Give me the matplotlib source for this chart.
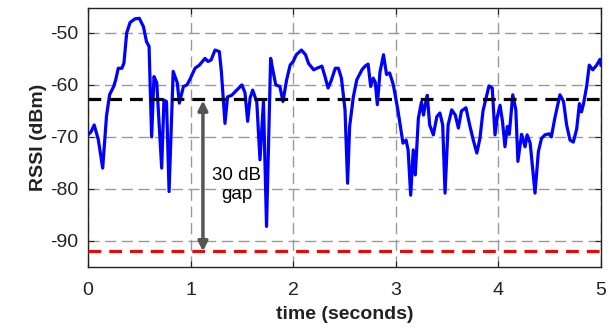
import matplotlib
matplotlib.use('Agg')
import numpy as np
import matplotlib.pyplot as plt

# RSSI trace
t = [0.0, 0.03, 0.06, 0.1, 0.143, 0.18, 0.21, 0.25, 0.27, 0.295, 0.33, 0.35, 0.377, 0.41,
     0.458, 0.5, 0.54, 0.57, 0.595, 0.62, 0.643, 0.67, 0.718, 0.74, 0.765, 0.79, 0.83, 0.87,
     0.89, 0.93, 0.965, 0.994, 1.043, 1.085, 1.14, 1.17, 1.2, 1.238, 1.28, 1.30, 1.335, 1.36,
     1.40, 1.45, 1.5, 1.53, 1.556, 1.58, 1.605, 1.645, 1.676, 1.71, 1.74, 1.78, 1.8, 1.83,
     1.87, 1.90, 1.936, 1.97, 2.0, 2.03, 2.08, 2.12, 2.15, 2.2, 2.23, 2.28, 2.31, 2.34, 2.37,
     2.41, 2.44, 2.47, 2.505, 2.53, 2.55, 2.586, 2.62, 2.67, 2.7, 2.73, 2.755, 2.78, 2.80,
     2.82, 2.846, 2.88, 2.91, 2.94, 2.976, 3.02, 3.07, 3.1, 3.12, 3.145, 3.17, 3.19, 3.22,
     3.25, 3.27, 3.285, 3.307, 3.33, 3.366, 3.4, 3.43, 3.457, 3.48, 3.51, 3.545, 3.58, 3.61,
     3.64, 3.684, 3.72, 3.755, 3.79, 3.82, 3.85, 3.886, 3.908, 3.94, 3.967, 3.99, 4.016,
     4.04, 4.064, 4.087, 4.106, 4.14, 4.17, 4.19, 4.226, 4.26, 4.28, 4.31, 4.357, 4.39, 4.42,
     4.454, 4.496, 4.516, 4.55, 4.6, 4.635, 4.665, 4.698, 4.73, 4.763, 4.79, 4.81, 4.83,
     4.86, 4.886, 4.92, 4.958, 4.99, 5.0]
rssi = [-69.6, -69.0, -67.7, -70.5, -76.0, -66.0, -61.9, -60.3, -59.0, -56.8, -56.8, -55.8,
        -50.0, -48.0, -47.3, -47.2, -48.8, -51.7, -52.6, -70.0, -58.4, -59.6, -76.0, -62.9,
        -63.2, -80.5, -57.4, -59.6, -63.5, -60.3, -60.0, -58.9, -56.8, -56.2, -54.9, -55.5,
        -55.2, -53.3, -53.6, -57.5, -67.4, -62.3, -62.0, -61.0, -60.0, -61.5, -67.0, -62.5,
        -61.0, -63.3, -74.4, -63.2, -87.2, -54.9, -57.0, -60.0, -60.3, -63.2, -59.0, -56.2,
        -55.5, -54.2, -53.3, -54.2, -55.9, -57.1, -56.8, -56.4, -58.4, -60.6, -59.2, -56.8,
        -56.8, -58.7, -64.8, -78.9, -68.0, -62.3, -59.0, -57.1, -56.4, -56.0, -60.3, -58.7,
        -59.5, -63.8, -57.5, -54.2, -58.0, -57.7, -60.0, -64.8, -71.2, -70.6, -72.5, -81.2,
        -72.5, -77.3, -66.4, -63.3, -65.8, -64.0, -62.0, -67.7, -69.6, -66.1, -65.4, -67.7,
        -80.8, -67.7, -64.8, -65.8, -68.3, -65.0, -64.4, -67.7, -70.6, -73.1, -70.3, -65.0,
        -62.0, -60.2, -60.6, -69.6, -66.1, -63.9, -67.0, -71.9, -68.0, -69.5, -61.9, -64.8,
        -74.7, -69.5, -71.9, -69.6, -71.2, -80.8, -72.8, -70.3, -69.6, -69.4, -70.0, -66.4,
        -61.9, -63.2, -67.7, -70.6, -71.0, -68.5, -63.6, -65.2, -63.6, -60.3, -56.2, -57.1,
        -56.2, -55.1, -56.2]

mean_level = -62.7
noise_floor = -92.0
gap_x = 1.12

plt.rcParams['font.family'] = ['Liberation Sans', 'DejaVu Sans']
plt.rcParams['axes.unicode_minus'] = False
fig = plt.figure(figsize=(6.13, 3.30), dpi=100)
ax = fig.add_axes([0.1436, 0.191, 0.8368, 0.785])

ax.grid(True, color='#999999', linestyle=(0, (8, 4)), linewidth=1.0)
ax.set_axisbelow(True)
ax.plot(t, rssi, color='#0000ff', linewidth=2.3, zorder=3)
ax.axhline(mean_level, color='black', linestyle=(0, (4, 2.5)), linewidth=2.3, zorder=4)
ax.axhline(noise_floor, color='#ff0000', linestyle=(0, (4, 2.5)), linewidth=2.3, zorder=4)

ax.annotate('', xy=(gap_x, noise_floor), xytext=(gap_x, mean_level - 0.3),
            arrowprops=dict(arrowstyle='<|-|>', color='#555555', lw=2.5,
                            mutation_scale=14, shrinkA=0, shrinkB=0), zorder=5)
ax.text(1.45, -79.3, '30 dB\ngap', ha='center', va='center', fontsize=13.5,
        linespacing=1.15, zorder=5)

ax.set_xlim(0, 5)
ax.set_ylim(-95, -45.2)
ax.set_xticks([0, 1, 2, 3, 4, 5])
ax.set_yticks([-90, -80, -70, -60, -50])
ax.tick_params(direction='in', top=True, right=True, labelsize=14, length=4,
               colors='#222222', labelcolor='#222222')
ax.tick_params(axis='x', pad=11)
ax.tick_params(axis='y', pad=7)
for s in ax.spines.values():
    s.set_color('#222222')
    s.set_linewidth(1.0)
ax.set_xlabel('time (seconds)', fontsize=14, fontweight='bold', color='#222222', labelpad=5)
ax.set_ylabel('RSSI (dBm)', fontsize=14, fontweight='bold', color='#222222', labelpad=2)

fig.savefig('out.png', dpi=100)
